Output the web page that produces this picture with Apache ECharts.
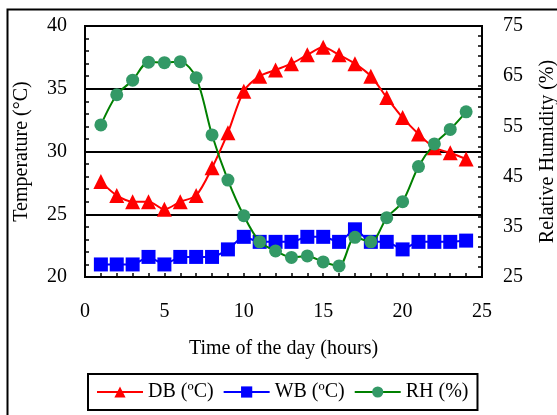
<!DOCTYPE html>
<html>
<head>
<meta charset="utf-8">
<script src="https://cdn.jsdelivr.net/npm/echarts@6/dist/echarts.min.js"></script>
<style>html,body{margin:0;padding:0;background:#fff}#c{width:557px;height:415px}</style>
</head>
<body>
<div id="c"></div>
<script>
const hours = [1,2,3,4,5,6,7,8,9,10,11,12,13,14,15,16,17,18,19,20,21,22,23,24];
const db = [27.6, 26.5, 26.0, 26.0, 25.4, 26.0, 26.5, 28.7, 31.5, 34.8, 36.0, 36.5, 37.0, 37.7, 38.3, 37.7, 37.0, 36.0, 34.3, 32.7, 31.4, 30.3, 29.9, 29.4];
const wb = [21.0, 21.0, 21.0, 21.6, 21.0, 21.6, 21.6, 21.6, 22.2, 23.2, 22.8, 22.8, 22.8, 23.2, 23.2, 22.8, 23.8, 22.8, 22.8, 22.2, 22.8, 22.8, 22.8, 22.9];
const rh = [55.3, 61.3, 64.2, 67.8, 67.7, 67.9, 64.7, 53.3, 44.3, 37.2, 32.0, 30.2, 28.9, 29.2, 28.0, 27.2, 32.9, 32.0, 36.8, 40.0, 47.0, 51.5, 54.4, 57.9];
const seriesNames = ['DB (ºC)', 'WB (ºC)', 'RH (%)'];
const xTitle = 'Time of the day (hours)';
const yLeftTitle = 'Temperature (°C)';
const yRightTitle = 'Relative Humidity (%)';

const pairs = arr => arr.map((v, i) => [hours[i], v]);
const font = 'Liberation Serif, Times New Roman, serif';
const fs = 20;
const chart = echarts.init(document.getElementById('c'));
const axisCommon = {
  axisLine: {show: true, lineStyle: {color: '#000', width: 2}},
  axisTick: {show: true, inside: true, length: 4, lineStyle: {color: '#000', width: 1.5}},
  minorTick: {show: true, splitNumber: 5, length: 4, lineStyle: {color: '#000', width: 1.5}},
  axisLabel: {color: '#000', fontFamily: font, fontSize: fs},
  nameTextStyle: {color: '#000', fontFamily: font, fontSize: fs},
  nameLocation: 'middle'
};
chart.setOption({
  animation: false,
  backgroundColor: '#fff',
  textStyle: {fontFamily: font},
  graphic: [{type: 'rect', left: 5, top: 7, shape: {width: 600, height: 450}, style: {fill: 'none', stroke: '#000', lineWidth: 2}, silent: true}],
  grid: {left: 85, right: 75, top: 26, bottom: 138, show: true, borderColor: '#000', borderWidth: 2, containLabel: false, outerBoundsMode: 'none'},
  legend: {
    data: seriesNames,
    left: 88, top: 374, width: 400,
    itemWidth: 46, itemHeight: 14, itemGap: 9,
    padding: [8, 9, 8, 8],
    borderColor: '#000', borderWidth: 2,
    textStyle: {color: '#000', fontFamily: font, fontSize: fs}
  },
  xAxis: Object.assign({}, axisCommon, {
    type: 'value', min: 0, max: 25, interval: 5,
    name: xTitle, nameGap: 62,
    axisLabel: Object.assign({}, axisCommon.axisLabel, {margin: 25}),
    splitLine: {show: false}
  }),
  yAxis: [
    Object.assign({}, axisCommon, {
      type: 'value', min: 20, max: 40, interval: 5, position: 'left',
      name: yLeftTitle, nameGap: 53,
      axisLabel: Object.assign({}, axisCommon.axisLabel, {margin: 18}),
      splitLine: {show: true, lineStyle: {color: '#000', width: 2}}
    }),
    Object.assign({}, axisCommon, {
      type: 'value', min: 25, max: 75, interval: 10, position: 'right',
      name: yRightTitle, nameGap: 56, nameRotate: 90,
      axisLabel: Object.assign({}, axisCommon.axisLabel, {margin: 21}),
      splitLine: {show: false}
    })
  ],
  series: [
    {name: seriesNames[0], type: 'line', yAxisIndex: 0, data: pairs(db), smooth: 0.3,
      symbol: 'triangle', symbolSize: 15, z: 2,
      lineStyle: {color: '#ff0000', width: 2}, itemStyle: {color: '#ff0000'}},
    {name: seriesNames[1], type: 'line', yAxisIndex: 0, data: pairs(wb), smooth: 0.2,
      symbol: 'rect', symbolSize: 14, z: 3,
      lineStyle: {color: '#0000ff', width: 2}, itemStyle: {color: '#0000ff'}},
    {name: seriesNames[2], type: 'line', yAxisIndex: 1, data: pairs(rh), smooth: 0.3,
      symbol: 'circle', symbolSize: 13, z: 4,
      lineStyle: {color: '#008000', width: 2}, itemStyle: {color: '#339966'}}
  ]
});
</script>
</body>
</html>
